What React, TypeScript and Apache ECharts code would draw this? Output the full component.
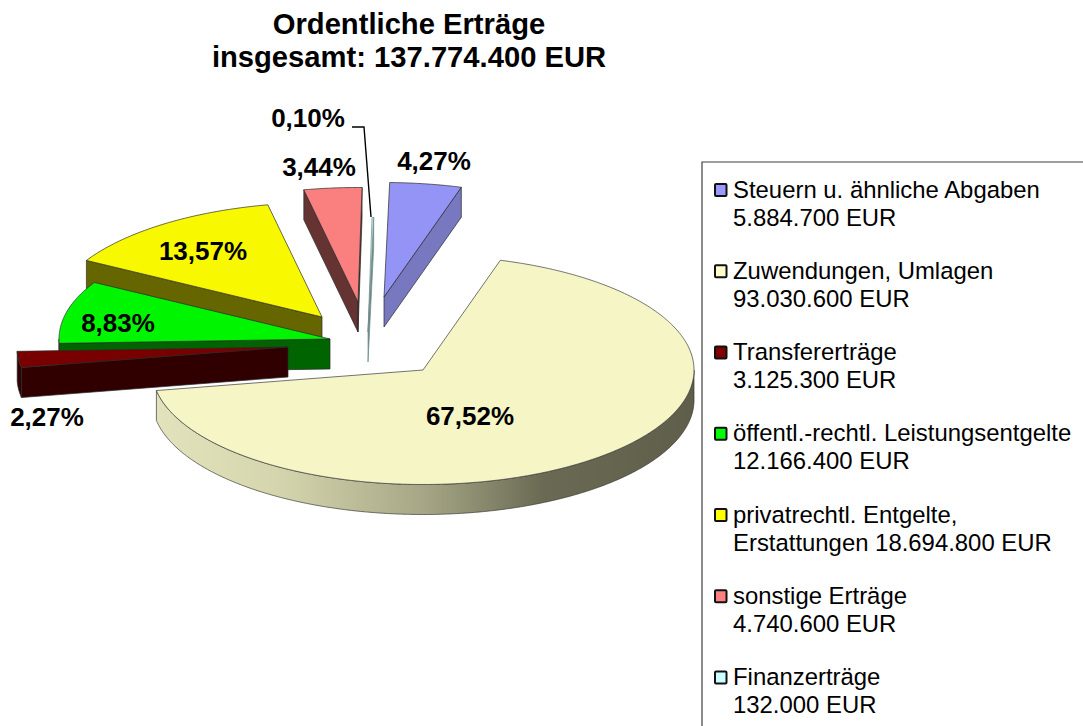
import React, { useEffect, useRef } from "react";
import * as echarts from "echarts";

const titleText = "Ordentliche Erträge\ninsgesamt: 137.774.400 EUR";
const categories = ["Steuern", "Zuwendungen", "Transfer", "Leistungsentgelte", "Entgelte", "sonstige", "Finanz"];
const amounts = [5884700, 93030600, 3125300, 12166400, 18694800, 4740600, 132000];
const percentLabels = ["4,27%", "67,52%", "2,27%", "8,83%", "13,57%", "3,44%", "0,10%"];
const legendLabels = [
  "Steuern u. ähnliche Abgaben\n5.884.700 EUR",
  "Zuwendungen, Umlagen\n93.030.600 EUR",
  "Transfererträge\n3.125.300 EUR",
  "öffentl.-rechtl. Leistungsentgelte\n12.166.400 EUR",
  "privatrechtl. Entgelte,\nErstattungen 18.694.800 EUR",
  "sonstige Erträge\n4.740.600 EUR",
  "Finanzerträge\n132.000 EUR",
];

// Presentation settings
const topColors = ["#9494F6", "#F5F5C6", "#780000", "#00F500", "#F8F800", "#FA8080", "#C4EEEE"];
const wallColors = ["#7878C0", "#E0E0B8", "#300000", "#006400", "#666600", "#663333", "#6E8A8A"];
const edgeColors = ["#2a2a2a", "#3a3a3a", "#2a2a2a", "#2a2a2a", "#2a2a2a", "#2a2a2a", "#6E8A8A"];
const markerColors = ["#9999FF", "#FFFFCC", "#800000", "#00FF00", "#FFFF00", "#FF8080", "#CCFFFF"];
const explodeX = [9, 48, -87, -45, -53, -17, -7];
const explodeY = [-42, 31, 8, 0, -22, -37, -7];
const labelX = [434, 470, 47, 118, 203, 319, 308];
const labelY = [161, 416, 417, 323, 251, 167, 118];
const drawOrder = [5, 6, 0, 4, 3, 2, 1];
const CX = 375;
const CY = 339;
const RX = 271;
const RY = 114.5;
const DEPTH = 30;
const ROTATION = 1.2;
const FONT = '"Liberation Sans", Arial, sans-serif';

const total = amounts.reduce((a, b) => a + b, 0);
const rad = (d: number) => (d * Math.PI) / 180;

function sweep(i: number) {
  const before = amounts.slice(0, i).reduce((a, b) => a + b, 0);
  return {
    start: ROTATION + (360 * before) / total,
    end: ROTATION + (360 * (before + amounts[i])) / total,
  };
}

function renderSlice(_params: any, api: any) {
  const i = api.value(0);
  const ax = CX + explodeX[i];
  const ay = CY + explodeY[i];
  const { start, end } = sweep(i);
  const at = (t: number, drop = 0) => [ax + RX * Math.sin(rad(t)), ay - RY * Math.cos(rad(t)) + drop];
  const arc = (a: number, b: number, drop = 0) => {
    const pts: number[][] = [];
    const n = Math.max(1, Math.ceil((b - a) / 0.5));
    for (let k = 0; k <= n; k++) pts.push(at(a + ((b - a) * k) / n, drop));
    return pts;
  };
  const edge = { stroke: edgeColors[i], lineWidth: 0.7, lineJoin: "round" };
  const children: any[] = [];
  const quad = (t: number) => {
    const p = at(t);
    const q = at(t, DEPTH);
    children.push({
      type: "polygon",
      shape: { points: [[ax, ay], p, q, [ax, ay + DEPTH]] },
      style: { fill: wallColors[i], ...edge },
    });
  };
  if (Math.sin(rad(start)) < 0) quad(start);
  if (Math.sin(rad(end)) > 0) quad(end);
  const a0 = Math.max(start, 90);
  const a1 = Math.min(end, 270);
  if (a1 > a0) {
    const fill =
      i === 1
        ? new echarts.graphic.LinearGradient(0, 0, 1, 0, [
            { offset: 0, color: "#E2E2BC" },
            { offset: 0.22, color: "#D6D6AE" },
            { offset: 0.5, color: "#A6A686" },
            { offset: 0.72, color: "#6A6A54" },
            { offset: 1, color: "#5E5E4A" },
          ])
        : wallColors[i];
    children.push({
      type: "polygon",
      shape: { points: [...arc(a0, a1), ...arc(a0, a1, DEPTH).reverse()] },
      style: { fill, ...edge },
    });
  }
  children.push({
    type: "polygon",
    shape: { points: [[ax, ay], ...arc(start, end)] },
    style: { fill: topColors[i], ...edge },
  });
  return { type: "group", children };
}

function buildGraphics() {
  const els: any[] = [];
  els.push({
    type: "rect",
    shape: { x: 702, y: 162, width: 420, height: 600 },
    style: { fill: "#fff", stroke: "#404040", lineWidth: 1.2 },
    z: 1,
  });
  percentLabels.forEach((text, i) => {
    els.push({
      type: "text",
      x: labelX[i],
      y: labelY[i],
      z: 20,
      style: { text, font: `bold 26px ${FONT}`, fill: "#000", textAlign: "center", textVerticalAlign: "middle" },
    });
  });
  els.push({
    type: "polyline",
    z: 20,
    shape: { points: [[352, 127], [364, 127], [371, 217]] },
    style: { stroke: "#000", lineWidth: 1.4, fill: "none" },
  });
  legendLabels.forEach((text, i) => {
    const y = 184 + i * 81.25;
    els.push({
      type: "rect",
      z: 20,
      shape: { x: 715, y, width: 11.5, height: 12, r: 1 },
      style: { fill: markerColors[i], stroke: "#111", lineWidth: 2 },
    });
    els.push({
      type: "text",
      x: 733,
      y: y - 9,
      z: 20,
      style: { text, font: `23.9px ${FONT}`, fill: "#000", lineHeight: 28, textAlign: "left", textVerticalAlign: "top" },
    });
  });
  return els;
}

export default function App() {
  const ref = useRef<HTMLDivElement>(null);
  useEffect(() => {
    if (!ref.current) return;
    const chart = echarts.init(ref.current, undefined, { renderer: "svg" });
    chart.setOption({
      animation: false,
      backgroundColor: "#fff",
      title: {
        text: titleText,
        left: 404,
        top: 2,
        textAlign: "center",
        textStyle: { fontFamily: FONT, fontSize: 29.2, fontWeight: "bold", color: "#000", lineHeight: 33 },
      },
      graphic: { elements: buildGraphics() },
      series: [
        {
          type: "custom",
          coordinateSystem: "none",
          silent: true,
          z: 5,
          renderItem: renderSlice,
          dimensions: ["index", "amount"],
          data: drawOrder.map((i) => ({ name: categories[i], value: [i, amounts[i]] })),
        },
      ],
    });
    return () => chart.dispose();
  }, []);
  return <div ref={ref} style={{ position: "absolute", left: 0, top: 0, width: 1083, height: 726 }} />;
}
